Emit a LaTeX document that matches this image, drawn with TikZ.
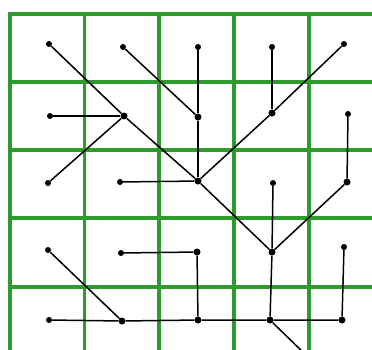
\documentclass[tikz,border=0pt]{standalone}
\begin{document}
\begin{tikzpicture}[x=1pt,y=-1pt,
  gridline/.style={draw={rgb,255:red,45;green,155;blue,45}, line width=3.2pt},
  edge/.style={draw=black, line width=1.5pt},
  leaf/.style={circle, fill=black, inner sep=0pt, minimum size=6pt},
  hub/.style={circle, fill=black, inner sep=0pt, minimum size=7pt}]
\useasboundingbox (0,0) rectangle (372,349);
\clip (0,0) rectangle (372,349);
\fill[white] (0,0) rectangle (372,349);
% grid
\foreach \x in {10,84.5,159,234,309} \draw[gridline] (\x,14) -- (\x,352);
\foreach \y in {14,82,150,218,287} \draw[gridline] (8.4,\y) -- (375,\y);
% nodes
\node[leaf] (n00) at (49,44) {};
\node[leaf] (n10) at (123,47) {};
\node[leaf] (n20) at (198,47) {};
\node[leaf] (n30) at (272,47) {};
\node[leaf] (n40) at (344,44) {};
\node[leaf] (n01) at (50,116) {};
\node[hub]  (n11) at (124,116) {};
\node[hub]  (n21) at (198,117) {};
\node[hub]  (n31) at (272,113) {};
\node[leaf] (n41) at (348,114) {};
\node[leaf] (n02) at (48,183) {};
\node[leaf] (n12) at (120,182) {};
\node[hub]  (n22) at (198,181) {};
\node[leaf] (n32) at (273,183) {};
\node[hub]  (n42) at (347,182) {};
\node[leaf] (n03) at (48,250) {};
\node[leaf] (n13) at (121,253) {};
\node[hub]  (n23) at (197,252) {};
\node[hub]  (n33) at (272,252) {};
\node[leaf] (n43) at (344,247) {};
\node[leaf] (n04) at (49,320) {};
\node[hub]  (n14) at (122,321) {};
\node[hub]  (n24) at (198,320) {};
\node[hub]  (n34) at (270,320) {};
\node[hub]  (n44) at (342,320) {};
\coordinate (off) at (346,394);
% edges
\draw[edge] (n00) -- (n11) -- (n22) -- (n33);
\draw[edge] (n10) -- (n21);
\draw[edge] (n01) -- (n11);
\draw[edge] (n02) -- (n11);
\draw[edge] (n20) -- (n21) -- (n22);
\draw[edge] (n30) -- (n31);
\draw[edge] (n40) -- (n31) -- (n22);
\draw[edge] (n41) -- (n42) -- (n33);
\draw[edge] (n12) -- (n22);
\draw[edge] (n32) -- (n33) -- (n34);
\draw[edge] (n13) -- (n23) -- (n24);
\draw[edge] (n03) -- (n14);
\draw[edge] (n04) -- (n14) -- (n24) -- (n34) -- (n44);
\draw[edge] (n43) -- (n44);
\draw[edge] (n34) -- (off);
\end{tikzpicture}
\end{document}
